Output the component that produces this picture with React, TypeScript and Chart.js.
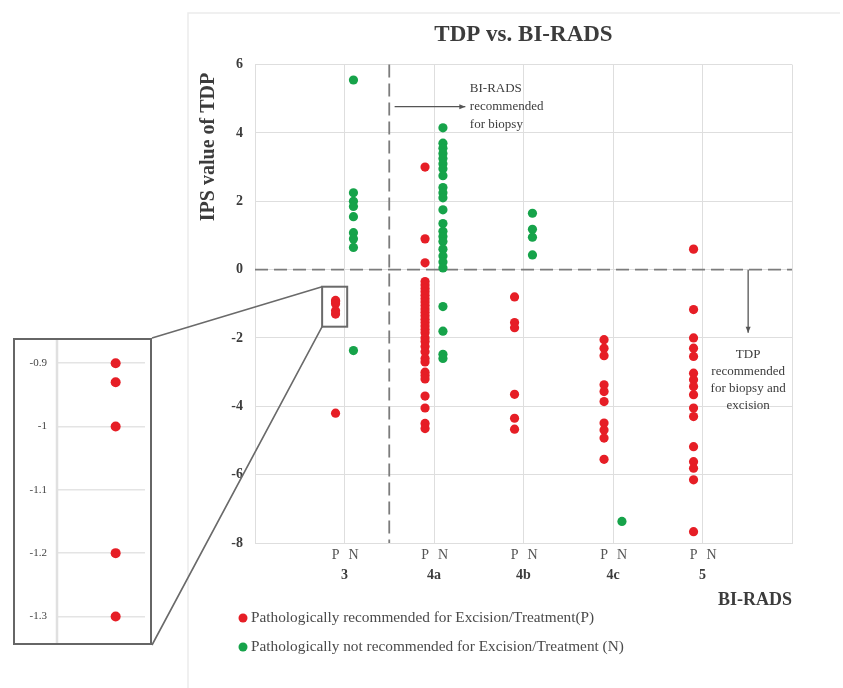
import React, { useEffect, useRef } from 'react';
import { Chart, registerables } from 'chart.js';

Chart.register(...registerables);

// ---------- data ----------
const categories = ['3', '4a', '4b', '4c', '5'];

// Pathologically recommended for excision/treatment (P), per BI-RADS category
const pValues: number[][] = [
  [-0.9, -0.93, -1.0, -1.2, -1.3, -4.2],
  [3.0, 0.9, 0.2, -0.35, -0.45, -0.55, -0.65, -0.75, -0.85, -0.95, -1.05, -1.15, -1.25, -1.35, -1.45, -1.55, -1.65, -1.75, -1.85, -2.0, -2.1, -2.25, -2.4, -2.6, -2.7, -3.0, -3.1, -3.2, -3.7, -4.05, -4.5, -4.65],
  [-0.8, -1.55, -1.7, -3.65, -4.35, -4.67],
  [-2.05, -2.3, -2.52, -3.37, -3.57, -3.86, -4.49, -4.69, -4.93, -5.55],
  [0.6, -1.17, -2.0, -2.3, -2.54, -3.03, -3.22, -3.42, -3.66, -4.05, -4.3, -5.18, -5.62, -5.81, -6.15, -7.67],
];

// Pathologically not recommended for excision/treatment (N), per BI-RADS category
const nValues: number[][] = [
  [5.55, 2.25, 2.0, 1.85, 1.55, 1.08, 0.9, 0.65, -2.37],
  [4.15, 3.7, 3.55, 3.4, 3.25, 3.1, 2.95, 2.75, 2.4, 2.25, 2.1, 1.75, 1.35, 1.12, 0.97, 0.82, 0.6, 0.4, 0.22, 0.05, -1.08, -1.8, -2.48, -2.6],
  [1.65, 1.18, 0.95, 0.43],
  [-7.37],
  [],
];

const yMin = -8;
const yMax = 6;
const yStep = 2;
const xMin = 0;
const xMax = 6;
const pOffset = -0.1;
const nOffset = 0.1;
const biopsyThresholdX = 1.5; // between BI-RADS 3 and 4a
const tdpThresholdY = 0;

const insetTicks = [-0.9, -1, -1.1, -1.2, -1.3];
const insetMin = -1.3157;
const insetMax = -0.8896;
const zoomBox = { x0: 0.75, x1: 1.03, y0: -0.5, y1: -1.67 };

const titleText = 'TDP vs. BI-RADS';
const yTitle = 'IPS value of TDP';
const xTitle = 'BI-RADS';
const labelP = 'Pathologically recommended for Excision/Treatment(P)';
const labelN = 'Pathologically not recommended for Excision/Treatment (N)';
const noteBiopsy = ['BI-RADS', 'recommended', 'for biopsy'];
const noteTdp = ['TDP', 'recommended', 'for biopsy and', 'excision'];

const RED = '#e61e26';
const GREEN = '#16a34a';
const GRID = '#dedede';
const TEXT = '#3c3c3c';
const SERIF = "'Liberation Serif', 'Times New Roman', serif";

function drawArrow(ctx: CanvasRenderingContext2D, x0: number, y0: number, x1: number, y1: number) {
  ctx.beginPath();
  ctx.moveTo(x0, y0);
  ctx.lineTo(x1, y1);
  ctx.stroke();
  const a = Math.atan2(y1 - y0, x1 - x0);
  const s = 6;
  ctx.beginPath();
  ctx.moveTo(x1, y1);
  ctx.lineTo(x1 - s * Math.cos(a) + 2.5 * Math.sin(a), y1 - s * Math.sin(a) - 2.5 * Math.cos(a));
  ctx.lineTo(x1 - s * Math.cos(a) - 2.5 * Math.sin(a), y1 - s * Math.sin(a) + 2.5 * Math.cos(a));
  ctx.closePath();
  ctx.fill();
}

const overlayPlugin = {
  id: 'overlay',
  beforeDraw(chart: any) {
    const ctx = chart.ctx as CanvasRenderingContext2D;
    ctx.save();
    ctx.strokeStyle = '#ebebeb';
    ctx.lineWidth = 1.5;
    ctx.beginPath();
    ctx.moveTo(188, 688);
    ctx.lineTo(188, 13);
    ctx.lineTo(840, 13);
    ctx.stroke();
    ctx.restore();
  },
  beforeDatasetsDraw(chart: any) {
    const ctx = chart.ctx as CanvasRenderingContext2D;
    const { left, right, top, bottom } = chart.chartArea;
    const xs = chart.scales.x;
    const ys = chart.scales.y;
    ctx.save();
    ctx.strokeStyle = '#7c7c7c';
    ctx.lineWidth = 1.8;
    ctx.setLineDash([13, 6]);
    const vx = xs.getPixelForValue(biopsyThresholdX);
    ctx.beginPath();
    ctx.moveTo(vx, top);
    ctx.lineTo(vx, bottom);
    ctx.stroke();
    const hy = ys.getPixelForValue(tdpThresholdY);
    ctx.beginPath();
    ctx.moveTo(left, hy);
    ctx.lineTo(right, hy);
    ctx.stroke();
    ctx.restore();
  },
  afterDraw(chart: any) {
    const ctx = chart.ctx as CanvasRenderingContext2D;
    const xs = chart.scales.x;
    const ys = chart.scales.y;
    ctx.save();

    // zoom box and connector lines
    const bx0 = xs.getPixelForValue(zoomBox.x0);
    const bx1 = xs.getPixelForValue(zoomBox.x1);
    const by0 = ys.getPixelForValue(zoomBox.y0);
    const by1 = ys.getPixelForValue(zoomBox.y1);
    ctx.strokeStyle = '#6a6a6a';
    ctx.lineWidth = 2;
    ctx.strokeRect(bx0, by0, bx1 - bx0, by1 - by0);
    ctx.lineWidth = 1.6;
    ctx.beginPath();
    ctx.moveTo(bx0, by0);
    ctx.lineTo(152, 338);
    ctx.moveTo(bx0, by1);
    ctx.lineTo(152, 645);
    ctx.stroke();

    // x category labels
    ctx.textAlign = 'center';
    ctx.textBaseline = 'middle';
    categories.forEach((c, i) => {
      const cx = xs.getPixelForValue(i + 1);
      ctx.fillStyle = '#555';
      ctx.font = `14px ${SERIF}`;
      ctx.fillText('P', xs.getPixelForValue(i + 1 + pOffset), 555);
      ctx.fillText('N', xs.getPixelForValue(i + 1 + nOffset), 555);
      ctx.fillStyle = TEXT;
      ctx.font = `bold 14px ${SERIF}`;
      ctx.fillText(c, cx, 575);
    });

    // y title
    ctx.save();
    ctx.translate(209, 147);
    ctx.rotate(-Math.PI / 2);
    ctx.fillStyle = TEXT;
    ctx.font = `bold 20px ${SERIF}`;
    ctx.textAlign = 'center';
    ctx.textBaseline = 'middle';
    ctx.fillText(yTitle, 0, 0);
    ctx.restore();

    // legend
    const ds = chart.data.datasets;
    ds.forEach((d: any, i: number) => {
      const y = 618 + i * 29;
      ctx.fillStyle = d.backgroundColor;
      ctx.beginPath();
      ctx.arc(243, y, 4.5, 0, Math.PI * 2);
      ctx.fill();
      ctx.fillStyle = '#4a4a4a';
      ctx.font = `15.3px ${SERIF}`;
      ctx.textAlign = 'left';
      ctx.textBaseline = 'middle';
      ctx.fillText(d.label, 251, y);
    });

    // annotation: BI-RADS recommended for biopsy
    ctx.strokeStyle = '#555';
    ctx.fillStyle = '#555';
    ctx.lineWidth = 1.3;
    const ay = ys.getPixelForValue(4.77);
    drawArrow(ctx, xs.getPixelForValue(1.56), ay, xs.getPixelForValue(2.35), ay);
    ctx.fillStyle = TEXT;
    ctx.font = `13px ${SERIF}`;
    ctx.textAlign = 'left';
    noteBiopsy.forEach((t, i) => {
      ctx.fillText(t, xs.getPixelForValue(2.4), ay - 18 + i * 18);
    });

    // annotation: TDP recommended for biopsy and excision
    const tx = xs.getPixelForValue(5.51);
    ctx.strokeStyle = '#555';
    ctx.fillStyle = '#555';
    drawArrow(ctx, tx, ys.getPixelForValue(tdpThresholdY), tx, ys.getPixelForValue(-1.85));
    ctx.fillStyle = TEXT;
    ctx.textAlign = 'center';
    noteTdp.forEach((t, i) => {
      ctx.fillText(t, tx, 355 + i * 17);
    });

    ctx.restore();
  },
};

const insetAxisLinePlugin = {
  id: 'insetAxisLine',
  beforeDatasetsDraw(chart: any) {
    const ctx = chart.ctx as CanvasRenderingContext2D;
    const x = chart.chartArea.left;
    ctx.save();
    ctx.strokeStyle = '#e0e0e0';
    ctx.lineWidth = 2.5;
    ctx.beginPath();
    ctx.moveTo(x, 0);
    ctx.lineTo(x, chart.height);
    ctx.stroke();
    ctx.restore();
  },
};

function toPoints(values: number[][], offset: number) {
  return values.flatMap((vals, i) => vals.map((y) => ({ x: i + 1 + offset, y })));
}

export default function App() {
  const mainRef = useRef<HTMLCanvasElement>(null);
  const insetRef = useRef<HTMLCanvasElement>(null);

  useEffect(() => {
    const main = new Chart(mainRef.current as HTMLCanvasElement, {
      type: 'scatter',
      data: {
        datasets: [
          {
            label: labelP,
            data: toPoints(pValues, pOffset),
            backgroundColor: RED,
            borderWidth: 0,
            pointRadius: 4.6,
          },
          {
            label: labelN,
            data: toPoints(nValues, nOffset),
            backgroundColor: GREEN,
            borderWidth: 0,
            pointRadius: 4.6,
          },
        ],
      },
      options: {
        animation: false,
        responsive: true,
        maintainAspectRatio: false,
        layout: { padding: { left: 190, right: 51, top: 0, bottom: 0 } },
        plugins: {
          legend: { display: false },
          tooltip: { enabled: false },
          title: {
            display: true,
            text: titleText,
            fullSize: false,
            color: TEXT,
            font: { family: SERIF, size: 23, weight: 'bold' },
            padding: { top: 21, bottom: 16 },
          },
        },
        scales: {
          x: {
            type: 'linear',
            min: xMin,
            max: xMax,
            afterFit: (s: any) => {
              s.height = 145;
            },
            ticks: { stepSize: 1, display: false },
            grid: { color: GRID, drawTicks: false },
            border: { color: GRID },
            title: {
              display: true,
              text: xTitle,
              align: 'end',
              color: TEXT,
              font: { family: SERIF, size: 18, weight: 'bold' },
              padding: { top: 0, bottom: 77 },
            },
          },
          y: {
            type: 'linear',
            min: yMin,
            max: yMax,
            afterFit: (s: any) => {
              s.width = 65;
            },
            ticks: {
              stepSize: yStep,
              padding: 12,
              color: TEXT,
              font: { family: SERIF, size: 14, weight: 'bold' },
            },
            grid: { color: GRID, drawTicks: false },
            border: { color: GRID },
          },
        },
      },
      plugins: [overlayPlugin],
    } as any);

    const inset = new Chart(insetRef.current as HTMLCanvasElement, {
      type: 'scatter',
      data: {
        datasets: [
          {
            label: labelP,
            data: pValues[0]
              .filter((v) => v >= -1.35 && v <= -0.85)
              .map((y) => ({ x: 1 + pOffset, y })),
            backgroundColor: RED,
            borderWidth: 0,
            pointRadius: 5,
          },
        ],
      },
      options: {
        animation: false,
        responsive: true,
        maintainAspectRatio: false,
        layout: { padding: { left: 0, right: 3, top: 0, bottom: 0 } },
        plugins: { legend: { display: false }, tooltip: { enabled: false } },
        scales: {
          x: { type: 'linear', min: 0.3, max: 1.2, display: false },
          y: {
            type: 'linear',
            min: insetMin,
            max: insetMax,
            afterFit: (s: any) => {
              s.width = 42;
            },
            afterBuildTicks: (s: any) => {
              s.ticks = insetTicks.map((v) => ({ value: v }));
            },
            ticks: {
              padding: 10,
              color: '#444',
              font: { family: SERIF, size: 11 },
              callback: (v: any) => String(v),
            },
            grid: { color: '#e4e4e4', drawTicks: false, lineWidth: 1.5 },
            border: { display: false },
          },
        },
      },
      plugins: [insetAxisLinePlugin],
    } as any);

    return () => {
      main.destroy();
      inset.destroy();
    };
  }, []);

  return (
    <div style={{ position: 'absolute', left: 0, top: 0, width: 843, height: 688, background: '#fff' }}>
      <div style={{ position: 'absolute', left: 0, top: 0, width: 843, height: 688 }}>
        <canvas ref={mainRef} />
      </div>
      <div
        style={{
          position: 'absolute',
          left: 13,
          top: 338,
          width: 139,
          height: 307,
          boxSizing: 'border-box',
          border: '2px solid #666',
          background: '#fff',
          zIndex: 1,
        }}
      >
        <canvas ref={insetRef} />
      </div>
    </div>
  );
}
